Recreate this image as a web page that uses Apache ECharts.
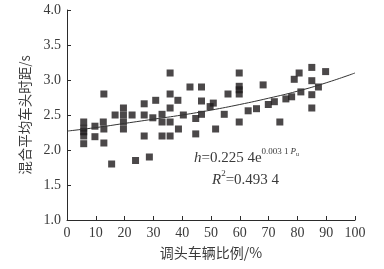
<!DOCTYPE html>
<html>
<head>
<meta charset="utf-8">
<script src="https://cdn.jsdelivr.net/npm/echarts@6/dist/echarts.min.js"></script>
<style>
  html, body { margin: 0; padding: 0; background: #fff; }
  #chart { width: 384px; height: 269px; }
</style>
</head>
<body>
<div id="chart"></div>
<script>
// 散点：调头车辆比例 (%) 与 混合平均车头时距 (s)
const ratio = [
  5.8, 5.8, 5.8, 5.8, 5.8, 9.7, 9.7, 12.8, 12.6, 12.8, 12.8,
  15.5, 16.7, 19.6, 19.6, 19.6, 19.6, 22.6, 23.8, 26.8, 26.8, 26.8,
  28.6, 29.8, 30.8, 33, 33, 33, 35.8, 35.8, 35.8, 35.8, 35.8,
  38.5, 38.7, 40.4, 42.7, 44.7, 44.7, 46.7, 46.7, 46.7, 49.7, 50.8,
  51.6, 54.6, 55.9, 59.8, 59.8, 59.8, 59.8, 59.8, 62.9, 65.8, 68.1,
  69.9, 72, 73.9, 76, 78, 78.9, 80.6, 81.2, 85, 85, 85, 85, 87.3, 89.8
];
const headway = [
  2.40, 2.31, 2.26, 2.20, 2.09, 2.34, 2.19, 2.80, 2.40, 2.30, 2.10,
  1.80, 2.50, 2.60, 2.50, 2.40, 2.30, 2.50, 1.85, 2.66, 2.50, 2.20,
  1.90, 2.46, 2.71, 2.51, 2.40, 2.20, 3.10, 2.80, 2.60, 2.40, 2.20,
  2.71, 2.30, 2.50, 2.90, 2.45, 2.23, 2.90, 2.70, 2.51, 2.62, 2.67,
  2.30, 2.51, 2.80, 3.10, 2.91, 2.86, 2.80, 2.40, 2.56, 2.59, 2.93,
  2.65, 2.69, 2.40, 2.73, 2.76, 3.01, 3.10, 2.83, 3.18, 2.99, 2.79, 2.60, 2.90, 3.12
];

// 拟合曲线
const fitX = [0, 10, 20, 30, 40, 50, 60, 70, 80, 90, 100];
const fitY = [2.27, 2.32, 2.38, 2.44, 2.50, 2.57, 2.65, 2.74, 2.84, 2.96, 3.10];

const chart = echarts.init(document.getElementById('chart'));
const axisColor = '#2b2b2b';
const textColor = '#3a3a3a';
const font = '"Liberation Serif", "Times New Roman", serif';
const cjk = '"Noto Sans CJK SC", sans-serif';

chart.setOption({
  animation: false,
  grid: { left: 67, right: 29, top: 10, bottom: 49 },
  xAxis: {
    type: 'value',
    min: 0, max: 100, interval: 10,
    name: '调头车辆比例/%',
    nameLocation: 'middle',
    nameGap: 26,
    nameTextStyle: { color: textColor, fontSize: 14, fontFamily: cjk },
    axisLine: { lineStyle: { color: axisColor, width: 1 } },
    axisTick: { inside: true, length: 4, lineStyle: { color: axisColor } },
    axisLabel: { color: textColor, fontSize: 14, fontFamily: font, margin: 6 },
    splitLine: { show: false }
  },
  yAxis: {
    type: 'value',
    min: 1, max: 4, interval: 0.5,
    name: '混合平均车头时距/s',
    nameLocation: 'middle',
    nameGap: 35,
    nameTextStyle: { color: textColor, fontSize: 13.5, fontFamily: cjk },
    axisLine: { show: true, lineStyle: { color: axisColor, width: 1 } },
    axisTick: { show: true, inside: true, length: 4, lineStyle: { color: axisColor } },
    axisLabel: {
      color: textColor, fontSize: 14, fontFamily: font, margin: 6,
      formatter: v => v.toFixed(1)
    },
    splitLine: { show: false }
  },
  series: [
    {
      type: 'scatter',
      symbol: 'rect',
      symbolSize: 7,
      itemStyle: { color: '#1e1a1b' },
      data: ratio.map((x, i) => [x, headway[i]])
    },
    {
      type: 'line',
      smooth: true,
      showSymbol: false,
      lineStyle: { color: '#333', width: 1 },
      data: fitX.map((x, i) => [x, fitY[i]])
    }
  ],
  graphic: [
    {
      type: 'text',
      left: 194,
      top: 147,
      style: {
        text: '{i|h}{n|=0.225 4e}{s|0.003 1}{si|P}{sb|u}',
        rich: {
          i: { fontFamily: font, fontStyle: 'italic', fontSize: 15, fill: textColor, lineHeight: 19, verticalAlign: 'bottom' },
          n: { fontFamily: font, fontSize: 15, fill: textColor, lineHeight: 19, verticalAlign: 'bottom' },
          s: { fontFamily: font, fontSize: 9, fill: textColor, lineHeight: 19, verticalAlign: 'top' },
          si: { fontFamily: font, fontStyle: 'italic', fontSize: 9, fill: textColor, lineHeight: 19, verticalAlign: 'top', padding: [0, 0, 0, 2] },
          sb: { fontFamily: font, fontSize: 6, fill: textColor, lineHeight: 19, verticalAlign: 'top', padding: [4, 0, 0, 0] }
        }
      }
    },
    {
      type: 'text',
      left: 212,
      top: 169,
      style: {
        text: '{i|R}{s|2}{n|=0.493 4}',
        rich: {
          i: { fontFamily: font, fontStyle: 'italic', fontSize: 15, fill: textColor, lineHeight: 19, verticalAlign: 'bottom' },
          n: { fontFamily: font, fontSize: 15, fill: textColor, lineHeight: 19, verticalAlign: 'bottom' },
          s: { fontFamily: font, fontSize: 9, fill: textColor, lineHeight: 19, verticalAlign: 'top' }
        }
      }
    }
  ]
});
</script>
</body>
</html>
